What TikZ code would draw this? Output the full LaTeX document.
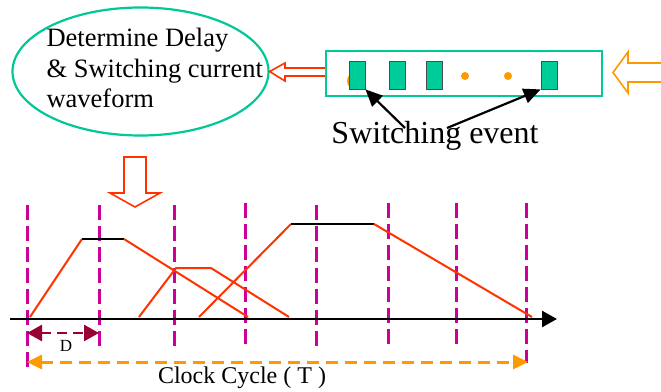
\documentclass[tikz,border=0pt]{standalone}
\usepackage{fontspec}
\setmainfont{Liberation Serif}
\usetikzlibrary{arrows.meta,shapes.geometric}
\definecolor{tealg}{HTML}{00C896}
\definecolor{evfill}{HTML}{00CC99}
\definecolor{orng}{HTML}{FF9900}
\definecolor{wred}{HTML}{FF3300}
\definecolor{mag}{HTML}{CC0099}
\definecolor{dred}{HTML}{990033}
\tikzset{
  evbox/.style={draw=black!70,fill=evfill,line width=0.8pt,minimum width=16pt,minimum height=28pt,inner sep=0pt},
  odot/.style={circle,fill=orng,minimum size=8pt,inner sep=0pt},
  vdash/.style={mag,line width=3pt,dash pattern=on 15pt off 6pt},
  wave/.style={wred,line width=2pt},
  flat/.style={black,line width=2.5pt},
  hollow/.style={line width=1.6pt,fill=white,line join=miter},
  ptr/.style={black,line width=2.2pt,-{Triangle[length=17pt,width=15pt]}}
}
\begin{document}
\begin{tikzpicture}[x=1pt,y=-1pt]
\useasboundingbox (0,0) rectangle (661,391);
% ellipse
\node[ellipse,draw=tealg,line width=2.2pt,minimum width=256pt,minimum height=128pt,inner sep=0pt] (ell) at (140.5,71.5) {};
\node[font=\fontsize{26.5}{30.5}\selectfont,align=left,anchor=north west] (etxt) at (43,25) {Determine Delay\\\& Switching current\\waveform};
% box
\node[draw=tealg,line width=2pt,minimum width=276pt,minimum height=45pt,inner sep=0pt] (box) at (464,73.5) {};
\node[odot,minimum size=18pt] (od0) at (356,81) {};
\node[evbox] (r1) at (357,75) {};
\node[evbox] (r2) at (397.5,75) {};
\node[evbox] (r3) at (434,75) {};
\node[evbox] (r4) at (549,75) {};
\node[odot] (d1) at (465,76) {};
\node[odot] (d2) at (508,76) {};
% red hollow arrow left
\draw[hollow,draw=wred] (box.west |- 0,68) -- (285,68) -- (285,63) -- (ell.east) -- (285,81) -- (285,76) -- (box.west |- 0,76);
% orange hollow arrow right
\draw[hollow,draw=orng] (661,63) -- (628,63) -- (628,52) -- (613,72.5) -- (628,93) -- (628,82) -- (661,82);
% switching event
\node[font=\fontsize{32}{36}\selectfont] (sw) at (435,136) {Switching event};
\coordinate (sa) at (405,128);
\coordinate (sb) at (447,128);
\draw[ptr] (sa) -- (r1.south east);
\draw[ptr] (sb) -- (r4.south west);
% down arrow
\draw[hollow,draw=wred] (124,157) -- (146,157) -- (146,193) -- (160,193) -- (135,207) -- (110,193) -- (124,193) -- cycle;
% verticals
\foreach \n/\x/\t/\b in {v1/27/205/368, v2/99/205/348, v3/174/205/348, v4/245/203/345, v5/316/205/348, v6/388/203/346, v7/456/203/345, v8/526/203/363}{
  \coordinate (\n t) at (\x,\t);
  \coordinate (\n b) at (\x,\b);
  \draw[vdash] (\n t) -- (\n b);
}
% waves
\draw[wave] (30,317) -- (82,239);
\draw[flat] (82,239) -- (124,239);
\draw[wave] (124,239) -- (248,317);
\draw[wave] (139,317) -- (176,268) -- (211,268) -- (289,317);
\draw[wave] (199,317) -- (291,224);
\draw[flat] (291,224) -- (374,224);
\draw[wave] (374,224) -- (532,317);
% axis
\coordinate (ax0) at (10,319);
\coordinate (ax1) at (557,319);
\draw[black,line width=2.5pt,-{Triangle[length=15pt,width=16pt]}] (ax0) -- (ax1);
% D arrow
\coordinate (da) at (27,333);
\coordinate (db) at (99,333);
\draw[dred,line width=2.5pt,dash pattern=on 10pt off 6pt,{Triangle[length=15pt,width=16pt]}-{Triangle[length=15pt,width=16pt]}] (da) -- (db);
\node[font=\fontsize{17}{20}\selectfont] (dl) at (66,346) {D};
% clock cycle
\coordinate (ca) at (27,362);
\coordinate (cb) at (528,362);
\draw[orng,line width=3pt,dash pattern=on 12pt off 7pt,{Triangle[length=15pt,width=14pt]}-{Triangle[length=15pt,width=14pt]}] (ca) -- (cb);
\node[font=\fontsize{24}{28}\selectfont] (cc) at (242,378) {Clock Cycle ( T )};
\end{tikzpicture}
\end{document}
